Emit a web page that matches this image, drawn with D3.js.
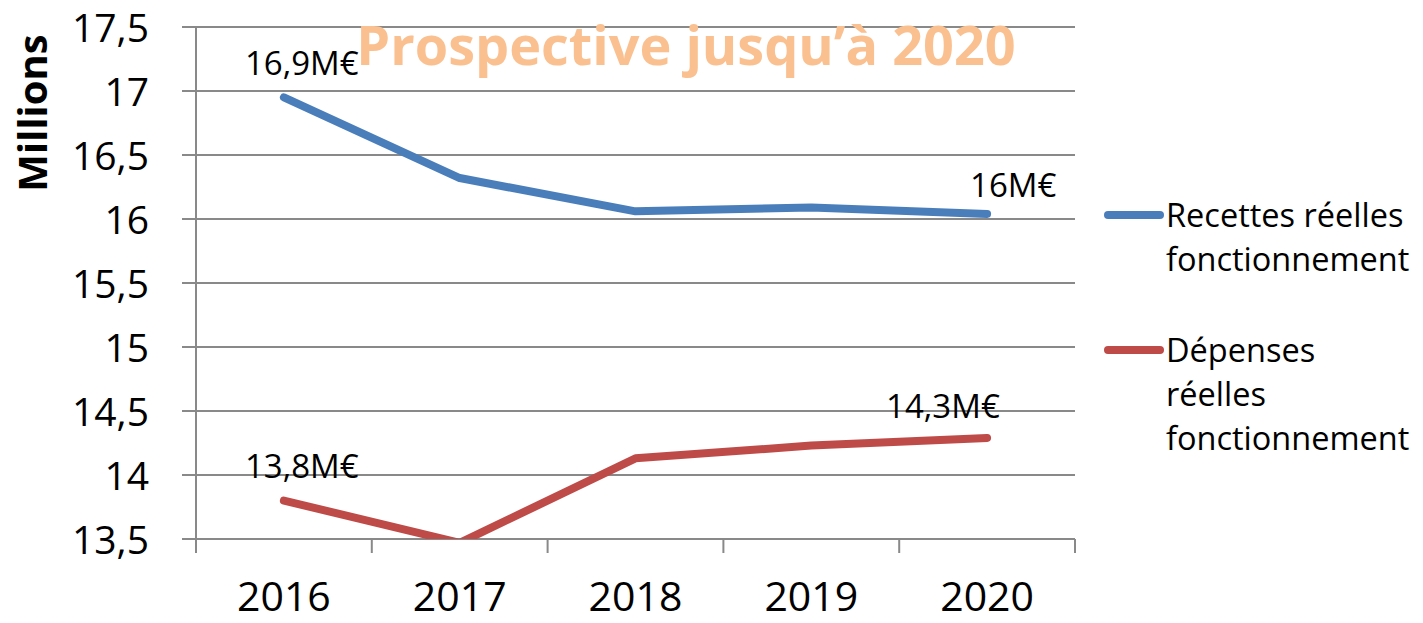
<!DOCTYPE html>
<html>
<head>
<meta charset="utf-8">
<script src="https://cdn.jsdelivr.net/npm/d3@7"></script>
<style>
  body { margin: 0; background: #fff; }
  text { font-family: "Open Sans", sans-serif; }
</style>
</head>
<body>
<div id="canvas"></div>
<script>
"use strict"

let svgWidth = 1423;
let svgHeight = 623;

// data
let years = ["2016", "2017", "2018", "2019", "2020"];
let recettes = [16.95, 16.32, 16.06, 16.09, 16.04];
let depenses = [13.80, 13.47, 14.13, 14.23, 14.29];
let yTicks = [13.5, 14, 14.5, 15, 15.5, 16, 16.5, 17, 17.5];
let seriesNames = [["Recettes réelles", "fonctionnement"], ["Dépenses", "réelles", "fonctionnement"]];
let seriesColors = ["#4a7ebb", "#be4b48"];

// plot area
let plotLeft = 196, plotRight = 1075, plotTop = 27, plotBottom = 539;

let svg = d3.select("#canvas")
    .append("svg")
    .attr("width", svgWidth)
    .attr("height", svgHeight);

/* Scales */
let xScale = d3.scaleBand()
    .domain(years)
    .range([plotLeft, plotRight]);

let yScale = d3.scaleLinear()
    .domain([13.5, 17.5])
    .range([plotBottom, plotTop]);

let xMid = d => xScale(d) + xScale.bandwidth() / 2;

/* Gridlines */
svg.append("g")
    .selectAll("line")
    .data(yTicks)
    .join("line")
    .attr("x1", plotLeft - 14)
    .attr("x2", plotRight)
    .attr("y1", d => yScale(d))
    .attr("y2", d => yScale(d))
    .attr("stroke", "#898989")
    .attr("stroke-width", 2);

/* y axis line */
svg.append("line")
    .attr("x1", plotLeft).attr("x2", plotLeft)
    .attr("y1", plotTop).attr("y2", plotBottom + 14)
    .attr("stroke", "#898989")
    .attr("stroke-width", 2);

/* x axis ticks between categories */
let xTickPos = years.map(d => xScale(d)).concat([plotRight]);
svg.append("g")
    .selectAll("line")
    .data(xTickPos)
    .join("line")
    .attr("x1", d => d).attr("x2", d => d)
    .attr("y1", plotBottom).attr("y2", plotBottom + 14)
    .attr("stroke", "#898989")
    .attr("stroke-width", 2);

/* y tick labels */
svg.append("g")
    .selectAll("text")
    .data(yTicks)
    .join("text")
    .attr("x", 149)
    .attr("y", d => yScale(d) + 15)
    .attr("text-anchor", "end")
    .attr("font-size", 39)
    .attr("fill", "#000")
    .text(d => String(d).replace(".", ","));

/* x labels */
svg.append("g")
    .selectAll("text")
    .data(years)
    .join("text")
    .attr("x", d => xMid(d))
    .attr("y", 611)
    .attr("text-anchor", "middle")
    .attr("font-size", 41)
    .text(d => d);

/* y axis title */
svg.append("text")
    .attr("transform", "translate(47,113) rotate(-90)")
    .attr("text-anchor", "middle")
    .attr("font-size", 40)
    .attr("font-weight", "bold")
    .text("Millions");

/* Lines, clipped to the plot area */
svg.append("clipPath")
    .attr("id", "plotClip")
    .append("rect")
    .attr("x", plotLeft).attr("y", plotTop - 10)
    .attr("width", plotRight - plotLeft).attr("height", plotBottom - plotTop + 10);

let line = d3.line()
    .x((d, i) => xMid(years[i]))
    .y(d => yScale(d));

svg.append("g")
    .attr("clip-path", "url(#plotClip)")
    .selectAll("path")
    .data([recettes, depenses])
    .join("path")
    .attr("d", d => line(d))
    .attr("fill", "none")
    .attr("stroke", (d, i) => seriesColors[i])
    .attr("stroke-width", 8)
    .attr("stroke-linecap", "round")
    .attr("stroke-linejoin", "round");

/* Data labels */
function addLabel(text, year, value, dx, dy) {
    svg.append("text")
        .attr("x", xMid(year) + dx)
        .attr("y", yScale(value) + dy)
        .attr("font-size", 33)
        .text(text);
}
addLabel("16,9M€", "2016", recettes[0], -39, -22);
addLabel("16M€", "2020", recettes[4], -17, -17);
addLabel("13,8M€", "2016", depenses[0], -39, -23);
addLabel("14,3M€", "2020", depenses[4], -101, -20);

/* Title */
svg.append("text")
    .attr("x", 686)
    .attr("y", 65)
    .attr("text-anchor", "middle")
    .attr("font-size", 54)
    .attr("font-weight", "bold")
    .attr("fill", "#fac090")
    .text("Prospective jusqu’à 2020");

/* Legend */
let legendY = [215, 350];
seriesNames.forEach(function(lines, i) {
    svg.append("line")
        .attr("x1", 1108).attr("x2", 1160)
        .attr("y1", legendY[i]).attr("y2", legendY[i])
        .attr("stroke", seriesColors[i])
        .attr("stroke-width", 8)
        .attr("stroke-linecap", "round");
    svg.append("text")
        .attr("x", 1166)
        .attr("y", legendY[i] + 12)
        .attr("font-size", 32.5)
        .selectAll("tspan")
        .data(lines)
        .join("tspan")
        .attr("x", 1166)
        .attr("dy", (d, j) => j === 0 ? 0 : 44)
        .text(d => d);
});
</script>
</body>
</html>
